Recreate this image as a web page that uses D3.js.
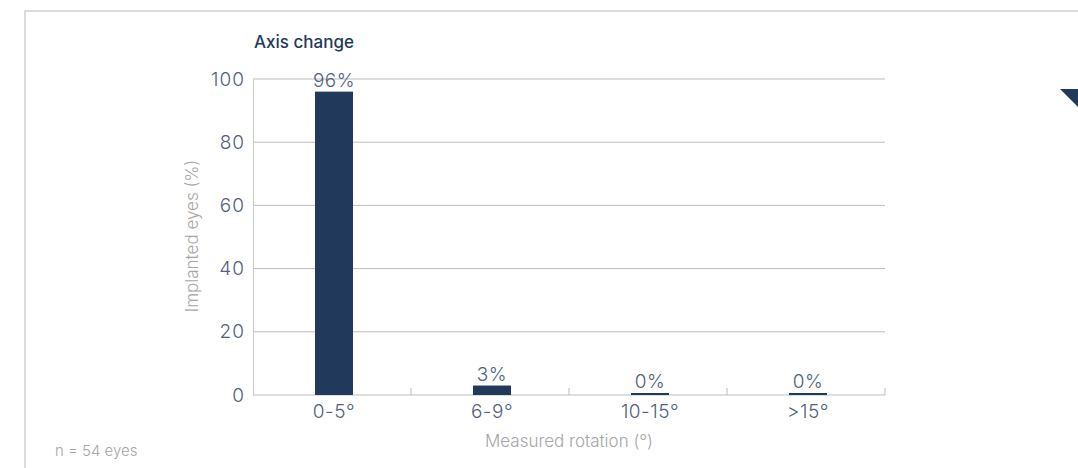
<!DOCTYPE html>
<html>
<head>
<meta charset="utf-8">
<script src="https://cdn.jsdelivr.net/npm/d3@7"></script>
<style>
  body { margin: 0; background: #fff; }
  svg { display: block; font-family: Inter, "Noto Sans", sans-serif; }
</style>
</head>
<body>
<div id="chart-container"></div>
<script>
// data
const categories = ['0-5°', '6-9°', '10-15°', '>15°'];
const values = [96, 3, 0, 0];
const yTicks = [0, 20, 40, 60, 80, 100];

const W = 1078, H = 468;
const x0 = 253, x1 = 885, yTop = 79, yBot = 395;
const FONT = 'Inter, "Noto Sans", sans-serif';

const svg = d3.select('#chart-container').append('svg')
  .attr('width', W).attr('height', H);

// frame round the panel
svg.append('rect')
  .attr('x', 25).attr('y', 11)
  .attr('width', 1100).attr('height', 500)
  .attr('fill', 'none').attr('stroke', '#cfcfcf').attr('stroke-width', 1.5);

// corner marker at the right
svg.append('path')
  .attr('d', 'M1060,89 L1080,89 L1080,109 Z')
  .attr('fill', '#213a5c');

const xScale = d3.scaleBand().domain(categories).range([x0, x1]);
const yScale = d3.scaleLinear().domain([0, 100]).range([yBot, yTop]);

// grid lines
svg.append('g').selectAll('line').data(yTicks.filter(d => d > 0)).join('line')
  .attr('x1', x0).attr('x2', x1)
  .attr('y1', d => yScale(d)).attr('y2', d => yScale(d))
  .attr('stroke', '#b9bdc2').attr('stroke-width', 1);

// y axis
const yAxis = svg.append('g').attr('transform', `translate(${x0},0)`)
  .call(d3.axisLeft(yScale).tickValues(yTicks).tickSize(0).tickPadding(8))
  .attr('font-family', FONT);
yAxis.select('.domain').attr('stroke', '#c4c7cb');
yAxis.selectAll('text')
  .attr('fill', '#52617c').style('font-size', '19px').style('font-weight', 300)
  .style('letter-spacing', '1px');

// x axis: ticks on the band edges
const xAxis = svg.append('g').attr('transform', `translate(0,${yBot})`);
xAxis.append('line').attr('x1', x0).attr('x2', x1).attr('stroke', '#b9bdc2');
xAxis.selectAll('.edge').data(categories).join('line')
  .attr('class', 'edge')
  .attr('x1', d => xScale(d) + xScale.bandwidth())
  .attr('x2', d => xScale(d) + xScale.bandwidth())
  .attr('y1', 0).attr('y2', -7)
  .attr('stroke', '#b9bdc2');
xAxis.selectAll('.lbl').data(categories).join('text')
  .attr('class', 'lbl')
  .attr('x', d => xScale(d) + xScale.bandwidth() / 2 + 2)
  .attr('y', 23)
  .attr('text-anchor', 'middle')
  .attr('fill', '#52617c').style('font-size', '19px').style('font-weight', 300)
  .style('letter-spacing', '0.5px')
  .text(d => d);

// bars
const barW = 38;
svg.append('g').selectAll('rect').data(categories).join('rect')
  .attr('x', d => xScale(d) + xScale.bandwidth() / 2 - barW / 2 + 2)
  .attr('width', barW)
  .attr('y', (d, i) => Math.min(yScale(values[i]), yBot - 2))
  .attr('height', (d, i) => Math.max(yBot - yScale(values[i]), 2))
  .attr('fill', '#213a5c');

// value labels
svg.append('g').selectAll('text').data(categories).join('text')
  .attr('x', d => xScale(d) + xScale.bandwidth() / 2 + 2)
  .attr('y', (d, i) => Math.min(yScale(values[i]), yBot - 2) - 5)
  .attr('text-anchor', 'middle')
  .attr('fill', '#52617c').style('font-size', '19px').style('font-weight', 300)
  .style('letter-spacing', '0.5px')
  .text((d, i) => values[i] + '%');

// titles
svg.append('text')
  .attr('x', 254).attr('y', 48)
  .attr('fill', '#213a5c').style('font-size', '17px').style('font-weight', 500)
  .text('Axis change');

svg.append('text')
  .attr('transform', `translate(198,236) rotate(-90)`)
  .attr('text-anchor', 'middle')
  .attr('fill', '#a6a6a6').style('font-size', '17px').style('font-weight', 300)
  .text('Implanted eyes (%)');

svg.append('text')
  .attr('x', 569).attr('y', 447)
  .attr('text-anchor', 'middle')
  .attr('fill', '#a6a6a6').style('font-size', '17px').style('font-weight', 300)
  .text('Measured rotation (°)');

svg.append('text')
  .attr('x', 55).attr('y', 456)
  .attr('fill', '#a6a6a6').style('font-size', '15px').style('font-weight', 300)
  .text('n = 54 eyes');
</script>
</body>
</html>
